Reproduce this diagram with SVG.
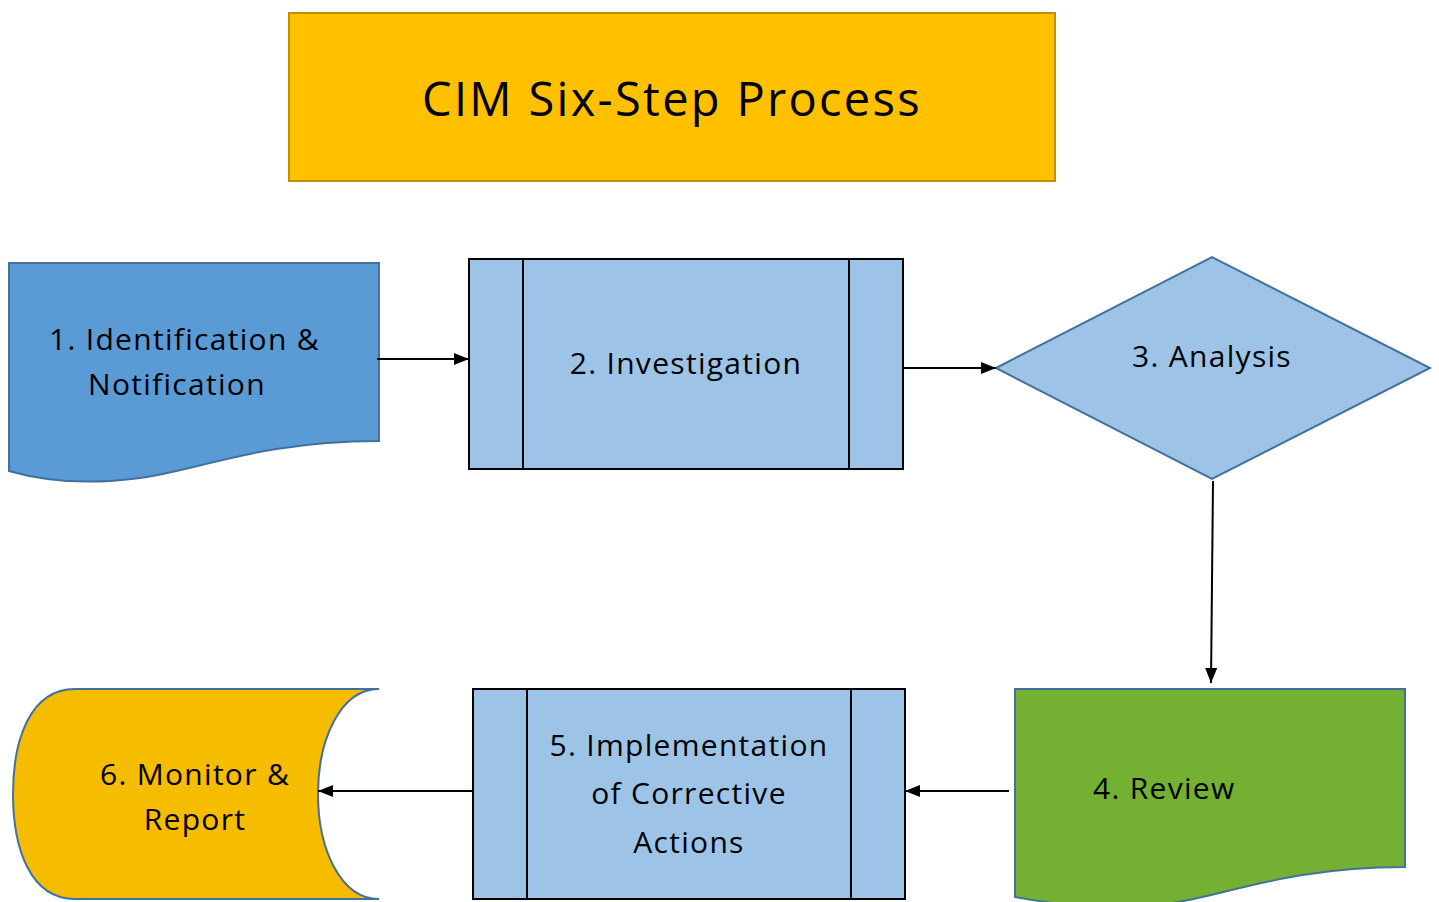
<svg xmlns="http://www.w3.org/2000/svg" width="1439" height="902" viewBox="0 0 1439 902">
<style>
.t{font-family:"Open Sans","Noto Sans",sans-serif;font-size:30px;letter-spacing:1.3px;fill:#000}
.proc{fill:#9DC3E6;stroke:#000;stroke-width:2}
.edge{stroke:#000;stroke-width:2;fill:none;marker-end:url(#ah)}
</style>
<defs>
<marker id="ah" viewBox="0 0 15 12" refX="15" refY="6" markerWidth="15" markerHeight="12" markerUnits="userSpaceOnUse" orient="auto">
<path d="M0,0 L15,6 L0,12 Z" fill="#000"/>
</marker>
</defs>
<rect width="1439" height="902" fill="#fff"/>
<g id="title">
<rect x="289" y="13" width="766" height="168" fill="#FFC000" stroke="#BF9000" stroke-width="2"/>
<text class="t" x="672" y="116" text-anchor="middle" style="font-size:47px;letter-spacing:2.3px">CIM Six-Step Process</text>
</g>
<g id="node1">
<path d="M9,263 H379 V441 C260,441 200,470 140,478 C80,486 40,480 9,471 Z" fill="#5B9BD5" stroke="#41719C" stroke-width="2"/>
<text class="t" x="49" y="350">1. Identification &amp;</text>
<text class="t" x="88" y="395">Notification</text>
</g>
<g id="node2">
<rect class="proc" x="469" y="259" width="434" height="210"/>
<line x1="523" y1="259" x2="523" y2="469" stroke="#000" stroke-width="2"/>
<line x1="849" y1="259" x2="849" y2="469" stroke="#000" stroke-width="2"/>
<text class="t" x="686" y="374" text-anchor="middle">2. Investigation</text>
</g>
<g id="node3">
<polygon points="996,368 1212,257 1430,368 1212,479" fill="#9DC3E6" stroke="#41719C" stroke-width="2"/>
<text class="t" x="1212" y="367" text-anchor="middle">3. Analysis</text>
</g>
<g id="node4">
<path d="M1015,689 H1405 V867 C1286,867 1226,896 1166,904 C1106,912 1066,906 1015,897 Z" fill="#74B031" stroke="#41719C" stroke-width="2"/>
<text class="t" x="1093" y="799">4. Review</text>
</g>
<g id="node5">
<rect class="proc" x="473" y="689" width="432" height="210"/>
<line x1="527" y1="689" x2="527" y2="899" stroke="#000" stroke-width="2"/>
<line x1="851" y1="689" x2="851" y2="899" stroke="#000" stroke-width="2"/>
<text class="t" x="689" y="756" text-anchor="middle">5. Implementation</text>
<text class="t" x="689" y="804" text-anchor="middle">of Corrective</text>
<text class="t" x="689" y="853" text-anchor="middle">Actions</text>
</g>
<g id="node6">
<path d="M379,689 H75 C30,689 13,740 13,794 C13,848 30,899 75,899 H379 C340,899 318,848 318,794 C318,740 340,689 379,689 Z" fill="#F5BC00" stroke="#41719C" stroke-width="2"/>
<text class="t" x="195" y="785" text-anchor="middle">6. Monitor &amp;</text>
<text class="t" x="195" y="830" text-anchor="middle">Report</text>
</g>
<g id="connectors">
<line class="edge" x1="377" y1="359" x2="469" y2="359"/>
<line class="edge" x1="903" y1="368" x2="996" y2="368"/>
<line class="edge" x1="1213" y1="481" x2="1211" y2="683"/>
<line class="edge" x1="1009" y1="791" x2="905" y2="791"/>
<line class="edge" x1="473" y1="791" x2="318" y2="791"/>
</g>
</svg>
